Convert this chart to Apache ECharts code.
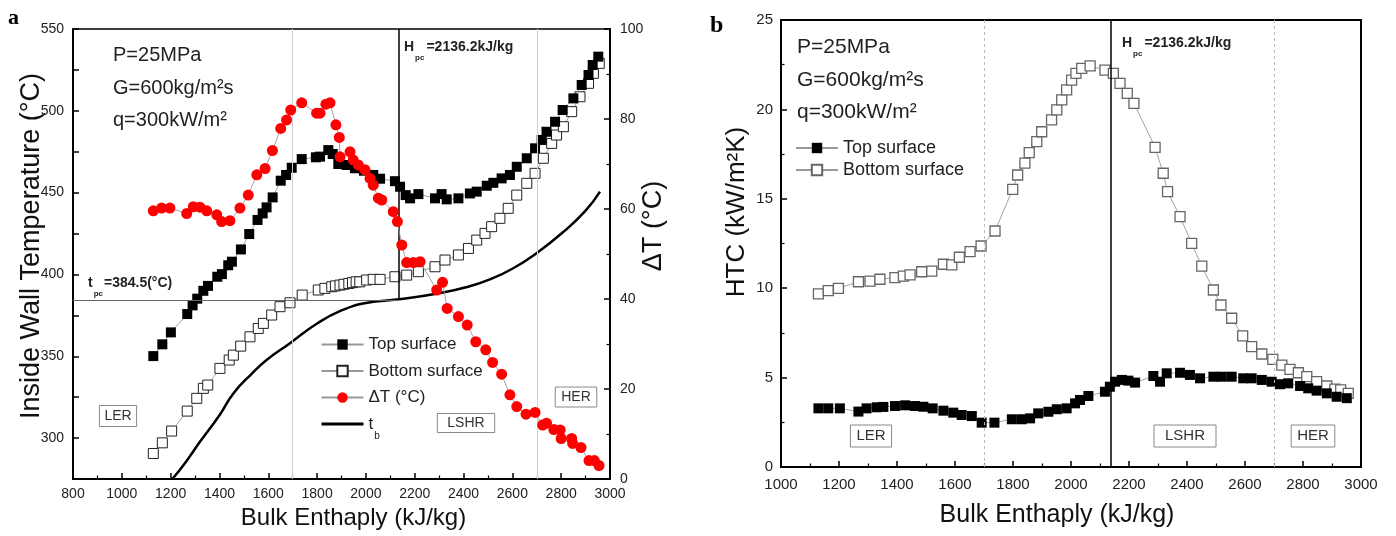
<!DOCTYPE html>
<html>
<head>
<meta charset="utf-8">
<script src="https://cdn.jsdelivr.net/npm/echarts@6/dist/echarts.min.js"></script>
<style>
html,body{margin:0;padding:0;background:#fff;}
#c{width:1396px;height:536px;}
</style>
</head>
<body>
<div id="c"></div>
<script>
// ---------- DATA ----------
// Panel a: inside wall temperature (top surface)
const topH_a = [1129,1166,1201,1268,1290,1309,1334,1353,1391,1410,1436,1451,1488,1522,1556,1577,1593,1618,1651,1673,1696,1737,1795,1812,1846,1864,1887,1921,1955,1992,2030,2058,2119,2140,2163,2181,2215,2283,2310,2331,2379,2426,2454,2495,2522,2556,2590,2618,2659,2693,2720,2740,2775,2806,2850,2884,2912,2929,2952];
const topT_a = [350.1,357.3,364.6,375.8,381.1,385.2,390,393,398.6,400.2,405.6,407.8,415.3,424.7,433.3,437.3,441,447.1,457.3,460.8,465.2,470.5,471.6,472,476,473.6,467.5,466.9,464.9,463.4,460.8,458.5,457,453.6,448.5,446.5,449.1,446.5,449.1,445.9,446.5,449.5,450.6,454.2,456,458.7,460.8,465.8,471,477.1,482.2,487.2,493.3,500.5,507.6,515.8,521.9,528,533.1];
// Panel a: inside wall temperature (bottom surface)
const botH_a = [1129,1166,1204,1268,1307,1334,1352,1402,1440,1457,1487,1525,1559,1580,1614,1648,1689,1739,1805,1832,1860,1875,1894,1910,1930,1945,1960,1975,2003,2030,2058,2119,2167,2215,2283,2324,2379,2420,2454,2488,2515,2549,2583,2618,2659,2693,2727,2761,2781,2809,2843,2877,2912,2932,2956];
const botT_a = [290.6,297.1,304.3,316.5,324.3,330.4,332.4,342.6,347.7,350.7,356.2,361.9,367,370.1,375.2,380.3,382.7,387.4,390.5,391.5,392.5,393,393.5,394,394.5,395,395.5,395.5,396.6,397,397,398.6,399.6,401.7,404.7,408.8,411.9,415.9,421,425.1,429.2,434.3,440.4,448.5,455.7,461.8,471,480.1,485.2,490.3,499.5,508.6,516.8,522.9,529];
// Panel a: temperature difference (right axis)
const dtH = [1129,1163,1197,1266,1293,1320,1348,1389,1409,1443,1484,1518,1553,1587,1617,1651,1675,1692,1737,1798,1812,1836,1853,1877,1891,1894,1935,1948,1969,1996,2017,2030,2051,2065,2112,2129,2147,2167,2194,2222,2290,2314,2333,2379,2415,2450,2491,2519,2556,2590,2618,2656,2693,2724,2740,2770,2796,2800,2843,2847,2881,2914,2936,2955];
const dtV = [59.6,60.2,60.2,59.0,60.5,60.4,59.6,58.7,57.2,57.4,60.2,63.1,67.6,69.0,73.0,77.9,79.8,82.0,83.6,81.3,81.3,83.3,83.6,78.7,75.9,71.6,72.7,70.9,69.8,68.7,66.8,65.3,62.4,62.0,59.4,57.2,52.0,48.1,48.1,48.3,42.0,43.7,37.9,36.1,34.2,30.5,28.7,25.9,23.3,18.7,16.1,14.4,14.8,12.0,12.4,11.0,10.9,9.0,9.0,7.9,7.0,4.1,4.1,3.0];
// Panel a: bulk fluid temperature t_b
const tbH = [1207,1260,1320,1400,1457,1530,1593,1689,1800,1900,2000,2136,2300,2414,2508,2600,2699,2809,2900,2959];
const tbT = [275,285,297.7,314,327.3,339,347.7,358,370,378,382.5,384.8,388.5,392.3,397,403.5,413,426,439,450.6];
// Panel b: HTC top surface
const topH_b = [1129,1163,1203,1267,1295,1330,1353,1393,1428,1462,1491,1523,1560,1594,1623,1658,1692,1736,1796,1830,1859,1887,1922,1951,1985,2014,2031,2060,2117,2134,2152,2175,2198,2221,2284,2307,2330,2376,2410,2445,2491,2520,2554,2594,2623,2658,2692,2721,2749,2790,2818,2847,2882,2916,2951];
const topV_b = [3.28,3.28,3.28,3.1,3.28,3.34,3.36,3.41,3.45,3.41,3.37,3.28,3.15,3.04,2.91,2.85,2.48,2.48,2.67,2.67,2.72,3.0,3.09,3.23,3.28,3.56,3.75,3.97,4.21,4.49,4.77,4.87,4.83,4.72,5.09,4.77,5.24,5.27,5.15,4.96,5.05,5.05,5.05,4.96,4.96,4.87,4.77,4.63,4.68,4.53,4.4,4.27,4.12,3.93,3.85];
// Panel b: HTC bottom surface
const botH_b = [1129,1163,1198,1267,1307,1341,1393,1422,1445,1485,1520,1560,1589,1615,1652,1690,1738,1799,1816,1841,1856,1882,1899,1933,1951,1968,1985,2002,2017,2037,2066,2117,2146,2169,2194,2217,2290,2318,2333,2376,2416,2451,2491,2517,2554,2592,2623,2658,2696,2727,2755,2784,2813,2847,2882,2910,2930,2956];
const botV_b = [9.68,9.86,9.99,10.36,10.40,10.50,10.59,10.68,10.74,10.92,10.96,11.34,11.3,11.73,12.04,12.36,13.2,15.53,16.33,16.99,17.58,18.2,18.75,19.41,19.97,20.53,21.09,21.64,22.02,22.3,22.43,22.2,22.02,21.46,20.9,20.34,17.88,16.43,15.4,14.0,12.51,11.24,9.9,9.06,8.32,7.33,6.73,6.32,6.02,5.7,5.46,5.27,5.05,4.77,4.53,4.35,4.31,4.12];
// reference values
const HPC = 2136.2;
const TPC = 384.5;
const REGION_BOUNDS = [1700, 2700];
const xTicksA = [800, 3000, 200];
const xTicksB = [1000, 3000, 200];
const yTicksA = [275, 550, 25];
const yTicksDT = [0, 100, 20];
const yTicksHTC = [0, 25, 5];

// ---------- CHART ----------
const SANS = '"Liberation Sans", Arial, Helvetica, sans-serif';
const SERIF = '"Liberation Serif", "Times New Roman", serif';
const zip = (a, b) => a.map((v, i) => [v, b[i]]);

function axisBase(r, labelSize, margin) {
  return {
    type: 'value', min: r[0], max: r[1], interval: r[2],
    axisLine: {show: true, onZero: false, lineStyle: {color: '#000', width: 2}},
    axisTick: {show: true, inside: true, length: 6, lineStyle: {color: '#000', width: 1.5}},
    minorTick: {show: true, splitNumber: 2, length: 3.5, lineStyle: {color: '#000', width: 1.2}},
    splitLine: {show: false},
    axisLabel: {fontSize: labelSize, color: '#222', fontFamily: SANS, margin: margin, formatter: v => String(v)}
  };
}

const chart = echarts.init(document.getElementById('c'), null, {renderer: 'canvas'});

const lineGrey = {color: '#999', width: 0.9};

const option = {
  animation: false,
  backgroundColor: '#fff',
  grid: [
    {left: 73, top: 29, width: 537, height: 450, show: true, borderColor: '#000', borderWidth: 1.5, backgroundColor: 'transparent'},
    {left: 781, top: 20, width: 580, height: 447, show: true, borderColor: '#000', borderWidth: 2, backgroundColor: 'transparent'}
  ],
  xAxis: [
    Object.assign(axisBase(xTicksA, 14, 8), {
      gridIndex: 0, name: 'Bulk Enthaply (kJ/kg)', nameLocation: 'middle', nameGap: 27,
      nameTextStyle: {fontSize: 24, color: '#111', fontFamily: SANS, padding: [0, 0, 0, 24]}
    }),
    Object.assign(axisBase(xTicksB, 15, 10), {
      gridIndex: 1, name: 'Bulk Enthaply (kJ/kg)', nameLocation: 'middle', nameGap: 36,
      nameTextStyle: {fontSize: 25, color: '#111', fontFamily: SANS, padding: [0, 28, 0, 0]}
    })
  ],
  yAxis: [
    (function () {
      const a = axisBase(yTicksA, 14, 9);
      a.minorTick.show = false;
      a.axisLabel.formatter = v => (v % 50 === 0 ? String(v) : '');
      a.gridIndex = 0;
      return a;
    })(),
    Object.assign(axisBase(yTicksDT, 14, 10), {gridIndex: 0, position: 'right'}),
    Object.assign(axisBase(yTicksHTC, 15, 8), {gridIndex: 1})
  ],
  legend: [
    {
      left: 315, top: 331, orient: 'vertical', itemWidth: 42, itemHeight: 13, itemGap: 9.5,
      data: ['Top surface', 'Bottom surface', 'ΔT (°C)', {name: 't_b', itemStyle: {opacity: 0}, lineStyle: {width: 3, color: '#000'}}],
      formatter: n => (n === 't_b' ? '{m|t}{s|b}' : n),
      textStyle: {fontSize: 17, color: '#222', fontFamily: SANS,
        rich: {m: {fontSize: 17, fontFamily: SANS, color: '#222', lineHeight: 19},
               s: {fontSize: 10, fontFamily: SANS, color: '#222', verticalAlign: 'bottom', lineHeight: 19, padding: [0, 0, -8, 1]}}}
    },
    {
      left: 790, top: 134, orient: 'vertical', itemWidth: 42, itemHeight: 13, itemGap: 4,
      data: ['Top surface ', 'Bottom surface '],
      textStyle: {fontSize: 18, color: '#222', fontFamily: SANS}
    }
  ],
  series: [
    {
      name: 't_b', type: 'line', xAxisIndex: 0, yAxisIndex: 0, data: zip(tbH, tbT),
      smooth: true, showSymbol: false, symbol: 'none', lineStyle: {color: '#000', width: 2.5}, itemStyle: {color: '#000'}, clip: true, z: 2,
      markLine: {
        silent: true, symbol: ['none', 'none'], label: {show: false}, animation: false,
        data: [
          {xAxis: REGION_BOUNDS[0], lineStyle: {color: '#cfcfcf', width: 1, type: 'solid'}},
          {xAxis: REGION_BOUNDS[1], lineStyle: {color: '#cfcfcf', width: 1, type: 'solid'}},
          [{coord: [HPC, yTicksA[1]], lineStyle: {color: '#000', width: 1.5, type: 'solid'}}, {coord: [HPC, TPC]}],
          [{coord: [xTicksA[0], TPC], lineStyle: {color: '#666', width: 1, type: 'solid'}}, {coord: [HPC, TPC]}]
        ]
      }
    },
    {
      name: 'Bottom surface', type: 'line', xAxisIndex: 0, yAxisIndex: 0, data: zip(botH_a, botT_a),
      symbol: 'rect', symbolSize: 10, lineStyle: lineGrey,
      itemStyle: {color: '#fff', borderColor: '#222', borderWidth: 1}, z: 3
    },
    {
      name: 'Top surface', type: 'line', xAxisIndex: 0, yAxisIndex: 0, data: zip(topH_a, topT_a),
      symbol: 'rect', symbolSize: 10, lineStyle: lineGrey, itemStyle: {color: '#000'}, z: 4
    },
    {
      name: 'ΔT (°C)', type: 'line', xAxisIndex: 0, yAxisIndex: 1, data: zip(dtH, dtV),
      symbol: 'circle', symbolSize: 11, lineStyle: lineGrey, itemStyle: {color: '#ff0000'}, z: 5
    },
    {
      name: 'Top surface ', type: 'line', xAxisIndex: 1, yAxisIndex: 2, data: zip(topH_b, topV_b),
      symbol: 'rect', symbolSize: 10, lineStyle: lineGrey, itemStyle: {color: '#000'}, z: 4,
      markLine: {
        silent: true, symbol: ['none', 'none'], label: {show: false}, animation: false,
        data: [
          {xAxis: REGION_BOUNDS[0], lineStyle: {color: '#bbb', width: 1, type: [3, 3]}},
          {xAxis: REGION_BOUNDS[1], lineStyle: {color: '#bbb', width: 1, type: [3, 3]}},
          {xAxis: HPC, lineStyle: {color: '#000', width: 1.5, type: 'solid'}}
        ]
      }
    },
    {
      name: 'Bottom surface ', type: 'line', xAxisIndex: 1, yAxisIndex: 2, data: zip(botH_b, botV_b),
      symbol: 'rect', symbolSize: 10, lineStyle: lineGrey,
      itemStyle: {color: '#fff', borderColor: '#666', borderWidth: 1.3}, z: 3
    }
  ],
  graphic: [
    // panel letters
    {type: 'text', x: 8, y: 18, style: {text: 'a', font: 'bold 22px ' + SERIF, fill: '#000', verticalAlign: 'middle'}},
    {type: 'text', x: 710, y: 26, style: {text: 'b', font: 'bold 24px ' + SERIF, fill: '#000', verticalAlign: 'middle'}},
    // condition texts panel a
    {type: 'text', x: 113, y: 55, style: {text: 'P=25MPa', font: '20px ' + SANS, fill: '#222', verticalAlign: 'middle'}},
    {type: 'text', x: 113, y: 88, style: {text: 'G=600kg/m²s', font: '20px ' + SANS, fill: '#222', verticalAlign: 'middle'}},
    {type: 'text', x: 113, y: 120, style: {text: 'q=300kW/m²', font: '20px ' + SANS, fill: '#222', verticalAlign: 'middle'}},
    // condition texts panel b
    {type: 'text', x: 797, y: 47, style: {text: 'P=25MPa', font: '21px ' + SANS, fill: '#222', verticalAlign: 'middle'}},
    {type: 'text', x: 797, y: 80, style: {text: 'G=600kg/m²s', font: '21px ' + SANS, fill: '#222', verticalAlign: 'middle'}},
    {type: 'text', x: 797, y: 112, style: {text: 'q=300kW/m²', font: '21px ' + SANS, fill: '#222', verticalAlign: 'middle'}},
    // Hpc labels
    {type: 'text', x: 404, y: 47, style: {text: '{m|H}{s|pc}{m|=2136.2kJ/kg}', verticalAlign: 'middle',
      rich: {m: {font: 'bold 14px ' + SANS, fill: '#222', lineHeight: 18}, s: {font: 'bold 8px ' + SANS, fill: '#222', verticalAlign: 'bottom', lineHeight: 18, padding: [0, 2, -6, 1]}}}},
    {type: 'text', x: 1122, y: 43, style: {text: '{m|H}{s|pc}{m|=2136.2kJ/kg}', verticalAlign: 'middle',
      rich: {m: {font: 'bold 14px ' + SANS, fill: '#222', lineHeight: 18}, s: {font: 'bold 8px ' + SANS, fill: '#222', verticalAlign: 'bottom', lineHeight: 18, padding: [0, 2, -6, 1]}}}},
    // t_pc label
    {type: 'text', x: 88, y: 283, style: {text: '{m|t}{s|pc}{m|=384.5(°C)}', verticalAlign: 'middle',
      rich: {m: {font: 'bold 14px ' + SANS, fill: '#222', lineHeight: 18}, s: {font: 'bold 8px ' + SANS, fill: '#222', verticalAlign: 'bottom', lineHeight: 18, padding: [0, 1, -6, 1]}}}},
    // region boxes panel a
    {type: 'text', x: 118, y: 416, style: {text: 'LER', font: '14px ' + SANS, fill: '#333', align: 'center', verticalAlign: 'middle', borderColor: '#888', borderWidth: 1, padding: [4, 5, 3, 5]}},
    {type: 'text', x: 466, y: 423, style: {text: 'LSHR', font: '14px ' + SANS, fill: '#333', align: 'center', verticalAlign: 'middle', borderColor: '#888', borderWidth: 1, padding: [3, 10, 2, 10]}},
    {type: 'text', x: 576, y: 397, style: {text: 'HER', font: '14px ' + SANS, fill: '#333', align: 'center', verticalAlign: 'middle', borderColor: '#888', borderWidth: 1, padding: [3, 6, 3, 6]}},
    // region boxes panel b
    {type: 'text', x: 871, y: 436, style: {text: 'LER', font: '15px ' + SANS, fill: '#333', align: 'center', verticalAlign: 'middle', borderColor: '#888', borderWidth: 1, padding: [4, 6, 3, 6]}},
    {type: 'text', x: 1185, y: 436, style: {text: 'LSHR', font: '15px ' + SANS, fill: '#333', align: 'center', verticalAlign: 'middle', borderColor: '#888', borderWidth: 1, padding: [4, 11, 3, 11]}},
    {type: 'text', x: 1313, y: 436, style: {text: 'HER', font: '15px ' + SANS, fill: '#333', align: 'center', verticalAlign: 'middle', borderColor: '#888', borderWidth: 1, padding: [4, 6, 3, 6]}},
    // rotated y titles
    {type: 'text', x: 32, y: 246, rotation: Math.PI / 2, style: {text: 'Inside Wall Temperature (°C)', font: '27px ' + SANS, fill: '#111', align: 'center', verticalAlign: 'middle'}},
    {type: 'text', x: 654, y: 226, rotation: Math.PI / 2, style: {text: 'ΔT (°C)', font: '27px ' + SANS, fill: '#111', align: 'center', verticalAlign: 'middle'}},
    {type: 'text', x: 737, y: 212, rotation: Math.PI / 2, style: {text: 'HTC (kW/m²K)', font: '26px ' + SANS, fill: '#111', align: 'center', verticalAlign: 'middle'}}
  ]
};

chart.setOption(option);
</script>
</body>
</html>
